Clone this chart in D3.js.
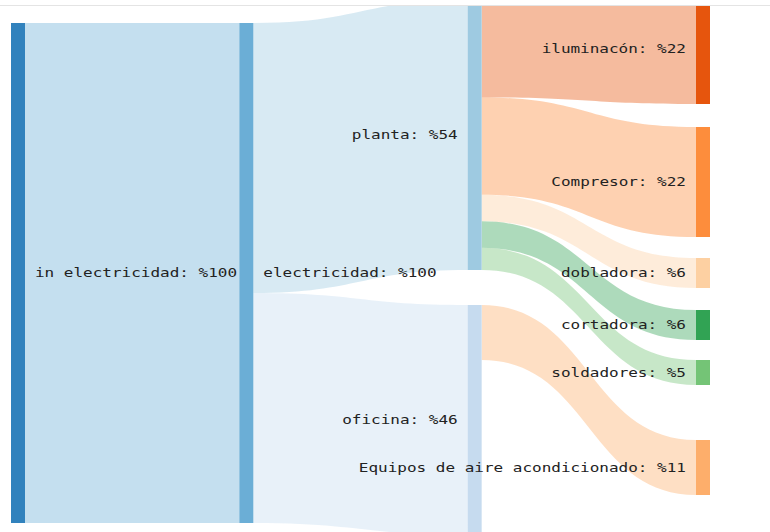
<!DOCTYPE html>
<html>
<head>
<meta charset="utf-8">
<script src="https://cdn.jsdelivr.net/npm/d3@7"></script>
<style>
  html, body { margin: 0; padding: 0; background: #ffffff; }
  svg { display: block; }
</style>
</head>
<body>
<svg id="chart" width="770" height="532"></svg>
<script>
// Energy flow: electricity intake split into plant / office and their consumers
const nodeNames = [
  "in electricidad", "electricidad", "planta", "oficina",
  "iluminacón", "Compresor", "dobladora", "cortadora", "soldadores",
  "Equipos de aire acondicionado"
];
const nodeValues  = [100, 100, 54, 46, 22, 22, 6, 6, 5, 11];
const nodeColumns = [0, 1, 2, 2, 3, 3, 3, 3, 3, 3];

const linkSources = [0, 1, 1, 2, 2, 2, 2, 2, 3];
const linkTargets = [1, 2, 3, 4, 5, 6, 7, 8, 9];
const linkValues  = [100, 54, 46, 22, 22, 6, 6, 5, 11];

// styling / layout settings
const nodeColors = ["#3182bd", "#6baed6", "#9ecae1", "#c6dbef",
                    "#e6550d", "#fd8d3c", "#fdd0a2", "#31a354", "#74c476", "#fdae6b"];
const gapBefore  = [23, 23, 0, 35, -6, 23, 21, 22, 20, 55];   // vertical spacing above each node
const nodeWidth = 14;
const linkOpacity = 0.4;

const svg = d3.select("#chart");
const W = 770, H = 532;

// scales
const xCol = d3.scaleLinear().domain([0, 3]).range([11, 696]);
const ky = d3.scaleLinear().domain([0, 100]).range([0, 500]);

// build nodes
const nodes = nodeNames.map((name, i) => ({
  index: i, name, value: nodeValues[i], column: nodeColumns[i], color: nodeColors[i],
  sourceLinks: [], targetLinks: []
}));
const columns = d3.groups(nodes, d => d.column).map(g => g[1]);
columns.forEach(col => {
  let y = 0;
  col.forEach(n => {
    y += gapBefore[n.index];
    n.x0 = xCol(n.column);
    n.x1 = n.x0 + nodeWidth;
    n.y0 = y;
    n.y1 = y + ky(n.value);
    y = n.y1;
  });
});

// build links
const links = linkSources.map((s, i) => ({
  source: nodes[s], target: nodes[linkTargets[i]], value: linkValues[i]
}));
links.forEach(l => { l.source.sourceLinks.push(l); l.target.targetLinks.push(l); });

// stack outgoing links on each source node (fit within the node height)
nodes.forEach(n => {
  const out = n.sourceLinks.slice().sort((a, b) => a.target.y0 - b.target.y0);
  const total = d3.sum(out, l => l.value);
  const k = total > n.value ? n.value / total : 1;
  let y = n.y0;
  out.forEach(l => { l.sy0 = y; y += ky(l.value * k); l.sy1 = y; });
  const inc = n.targetLinks.slice().sort((a, b) => a.source.y0 - b.source.y0);
  let yt = n.y0;
  inc.forEach(l => { l.ty0 = yt; yt += ky(l.value); l.ty1 = yt; });
});

function ribbon(l) {
  const sx = l.source.x1, tx = l.target.x0, xm = (sx + tx) / 2;
  const p = d3.path();
  p.moveTo(sx, l.sy0);
  p.bezierCurveTo(xm, l.sy0, xm, l.ty0, tx, l.ty0);
  p.lineTo(tx, l.ty1);
  p.bezierCurveTo(xm, l.ty1, xm, l.sy1, sx, l.sy1);
  p.closePath();
  return p.toString();
}

// frame line and clipped plot area
svg.append("defs").append("clipPath").attr("id", "plotClip")
  .append("rect").attr("x", 0).attr("y", 6).attr("width", W).attr("height", H - 6);

svg.append("line")
  .attr("x1", 0).attr("x2", W).attr("y1", 5.5).attr("y2", 5.5)
  .attr("stroke", "#e4e4e4").attr("stroke-width", 1);

const plot = svg.append("g").attr("clip-path", "url(#plotClip)");

plot.append("g").selectAll("path")
  .data(links)
  .join("path")
  .attr("d", ribbon)
  .attr("fill", d => d.target.color)
  .attr("fill-opacity", linkOpacity);

plot.append("g").selectAll("rect")
  .data(nodes)
  .join("rect")
  .attr("x", d => d.x0)
  .attr("y", d => d.y0)
  .attr("width", d => d.x1 - d.x0)
  .attr("height", d => d.y1 - d.y0)
  .attr("fill", d => d.color);

plot.append("g").selectAll("text")
  .data(nodes)
  .join("text")
  .attr("transform", d => {
    const left = d.x0 < W / 2;
    const x = left ? d.x1 + 10 : d.x0 - 10;
    return `translate(${x},${(d.y0 + d.y1) / 2}) scale(1.28,1)`;
  })
  .attr("dy", "0.35em")
  .attr("text-anchor", d => d.x0 < W / 2 ? "start" : "end")
  .attr("font-family", "'DejaVu Sans Mono', monospace")
  .attr("font-size", 12.5)
  .attr("fill", "#222")
  .text(d => `${d.name}: %${d.value}`);
</script>
</body>
</html>
